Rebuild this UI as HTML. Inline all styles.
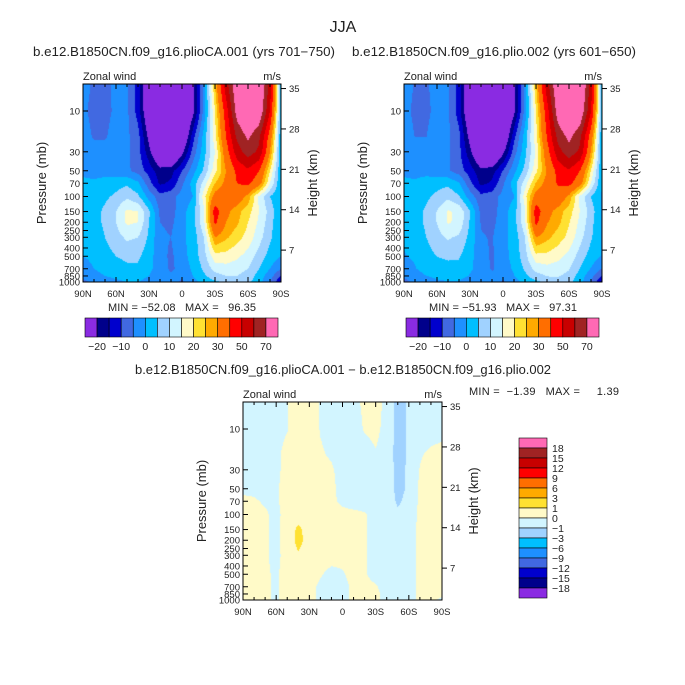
<!DOCTYPE html>
<html><head><meta charset="utf-8">
<style>
html,body{margin:0;padding:0;background:#fff;}
#wrap{position:relative;width:685px;height:685px;overflow:hidden;font-family:"Liberation Sans",sans-serif;}
canvas{position:absolute;}
svg{position:absolute;left:0;top:0;}
svg text{white-space:pre;}
</style></head>
<body>
<div id="wrap">
<canvas id="cA" width="198" height="198" style="left:83px;top:84px"></canvas>
<canvas id="cB" width="198" height="198" style="left:404px;top:84px"></canvas>
<canvas id="cD" width="199" height="198" style="left:243px;top:402px"></canvas>
<svg id="svg" width="685" height="685" xmlns="http://www.w3.org/2000/svg"></svg>
</div>
<script>
// ---- data ----
const lats = ["90N","80N","70N","60N","50N","40N","30N","20N","10N","EQ","10S","20S","30S","40S","50S","60S","70S","80S","90S"];
const levels = [5,10,20,30,50,70,100,150,200,300,500,700,850,1000];
const uA = [
 [-3,-6,-6,-4,-4,-12,-30,-45,-48,-40,-22,-3,25,55,80,90,85,55,0],
 [-4,-6.5,-6.5,-4,-4,-12,-28,-40,-42,-35,-22,-3,20,45,75,85,80,50,0],
 [-3,-5.5,-5.5,-3,-4,-8,-22,-38,-40,-30,-12,2,18,40,62,72,62,35,0],
 [-3,-3,-3,-3,-4,-8,-18,-30,-32,-22,-8,3,15,35,55,65,58,30,0],
 [-1,-2,-2,-3,-4,-7,-12,-18,-17,-10,-2,6,18,30,42,48,40,20,0],
 [1,1,2,3,4,1,-8,-16,-14,-6,2,12,25,32,40,42,34,15,0],
 [2,3,4,6,9,6,-2,-8,-7,-3,0,18,33,35,35,28,14,5,0],
 [2,3,6,10,16,15,6,-6,-7,-2,3,14,45,32,27,22,15,8,0],
 [2,3,6,10,16,15,5,-5,-6,-2,3,14,42,30,26,20,14,7,0],
 [1,2,5,8,11,10,4,-4,-5,-1,2,10,30,26,22,18,12,6,0],
 [0,1,3,5,6,6,2,-3,-6,-2,2,8,18,18,16,13,8,3,0],
 [-2,0,2,3,4,4,1,-2,-6,-3,1,6,12,13,12,10,5,0,-5],
 [-4,-2,0,1,2,2,0,-3,-4,-4,0,4,8,10,10,8,3,-3,-10],
 [-6,-4,-2,-1,0,0,-2,-3,-3,-6,-2,2,4,6,7,6,2,-5,-15]
];
const diff = [
 [-0.5,-0.5,-0.5,-0.4,-0.05,0.5,0.5,-0.05,-0.3,-0.5,-0.3,0.2,0.4,-0.3,-1.3,-0.9,-0.5,-0.4,-0.3],
 [-0.5,-0.5,-0.5,-0.3,-0.05,0.5,0.5,-0.05,-0.3,-0.5,-0.5,0.1,0.3,-0.4,-1.3,-0.9,-0.5,-0.4,-0.3],
 [-0.4,-0.4,-0.4,-0.2,0.3,0.5,0.5,0.1,-0.1,-0.4,-0.5,-0.5,-0.1,-0.6,-1.3,-0.9,-0.1,0.2,0.3],
 [-0.3,-0.3,-0.3,-0.2,0.3,0.5,0.5,0.3,0.1,-0.3,-0.5,-0.5,-0.5,-0.6,-1.2,-0.9,0.05,0.4,0.4],
 [-0.2,-0.2,-0.3,-0.1,0.3,0.5,0.5,0.4,0.2,-0.3,-0.5,-0.5,-0.5,-0.6,-1.2,-0.9,0.2,0.3,0.4],
 [0.2,0.1,-0.1,-0.1,0.3,0.5,0.5,0.4,0.2,-0.2,-0.5,-0.5,-0.5,-0.6,-1.1,-0.8,0.2,0.3,0.4],
 [0.3,0.3,0.1,-0.2,0.3,0.6,0.6,0.5,0.4,0.3,0.3,0.1,-0.3,-0.5,-0.9,-0.5,0.2,0.3,0.4],
 [0.3,0.3,0.1,-0.2,0.4,1.2,0.6,0.5,0.4,0.3,0.3,0.1,-0.3,-0.5,-0.5,-0.4,0.2,0.3,0.4],
 [0.3,0.3,0.1,-0.2,0.4,1.3,0.6,0.5,0.4,0.3,0.3,0.1,-0.3,-0.5,-0.5,-0.4,0.2,0.3,0.4],
 [0.3,0.3,0.1,-0.2,0.3,0.9,0.5,0.5,0.4,0.3,0.3,0.1,-0.3,-0.5,-0.5,-0.4,0.2,0.3,0.4],
 [0.3,0.3,0.1,-0.1,0.3,0.5,0.5,0.1,-0.3,-0.1,0.3,0.1,-0.3,-0.5,-0.5,-0.4,0.2,0.3,0.4],
 [0.3,0.3,0.1,-0.1,0.3,0.4,0.3,-0.2,-0.4,-0.3,0.2,0.2,0.1,-0.4,-0.5,-0.4,0.2,0.3,0.3],
 [0.3,0.3,0.1,-0.1,0.3,0.4,0.3,-0.2,-0.4,-0.3,0.2,0.2,0.2,-0.3,-0.5,-0.4,0.2,0.3,0.2],
 [0.3,0.3,0.1,-0.1,0.3,0.4,0.3,-0.2,-0.4,-0.3,0.2,0.2,0.2,-0.3,-0.5,-0.4,0.2,0.2,-0.2]
];
const uB = uA.map((row,i)=>row.map((v,j)=>v-diff[i][j]));
const boundsU = [-20,-15,-10,-5,0,5,10,15,20,25,30,40,50,60,70];
const boundsD = [-18,-15,-12,-9,-6,-3,-1,0,1,3,6,9,12,15,18];
const palette = ["#8a2be2","#00008b","#0000cd","#4169e1","#1e90ff","#00bfff","#a0d2ff","#d2f5ff","#fffac8","#ffe132","#ffaa00","#ff6e00","#ff0000","#c80000","#a02323","#ff69b4"];
const barLabelsU = ["\u221220","\u221210","0","10","20","30","50","70"];
const barLabelsD = ["\u221218","\u221215","\u221212","\u22129","\u22126","\u22123","\u22121","0","1","3","6","9","12","15","18"];
const pTicks = [10,30,50,70,100,150,200,250,300,400,500,700,850,1000];
const kmTicks = [7,14,21,28,35];
const latTicks = ["90N","60N","30N","0","30S","60S","90S"];

// ---- scales ----
const H=198, decade=85.5;
function yOfP(p){ return H - (3-Math.log10(p))*decade; }
function pOfY(y){ return Math.pow(10, 3-(H-y)/decade); }
function yOfKm(k){ return 206.5 - k*5.77; }

function hexRgb(h){return [parseInt(h.substr(1,2),16),parseInt(h.substr(3,2),16),parseInt(h.substr(5,2),16)];}
const rgb = palette.map(hexRgb);

function sample(grid, fx, p){
  const lp=Math.log10(Math.min(1000,Math.max(5,p)));
  let k=0; while(k<levels.length-2 && Math.log10(levels[k+1])<lp) k++;
  const l0=Math.log10(levels[k]), l1=Math.log10(levels[k+1]);
  const t=Math.min(1,Math.max(0,(lp-l0)/(l1-l0)));
  const xi=fx*(lats.length-1); let j=Math.min(lats.length-2,Math.floor(xi)); const s=xi-j;
  const a=grid[k][j]*(1-s)+grid[k][j+1]*s, b=grid[k+1][j]*(1-s)+grid[k+1][j+1]*s;
  return a*(1-t)+b*t;
}
function draw(id, grid, bounds){
  const c=document.getElementById(id), ctx=c.getContext('2d');
  const W=c.width, img=ctx.createImageData(W,H);
  for(let y=0;y<H;y++){ const p=pOfY(y+0.5);
    for(let x=0;x<W;x++){ const v=sample(grid,(x+0.5)/W,p);
      let ci=0; while(ci<bounds.length && v>=bounds[ci]) ci++;
      const col=rgb[ci], o=(y*W+x)*4; img.data[o]=col[0];img.data[o+1]=col[1];img.data[o+2]=col[2];img.data[o+3]=255; } }
  ctx.putImageData(img,0,0);
}
draw('cA',uA,boundsU); draw('cB',uB,boundsU); draw('cD',diff,boundsD);

// ---- annotations ----
const svg=document.getElementById('svg'), NS="http://www.w3.org/2000/svg";
function el(tag,attrs,txt){const e=document.createElementNS(NS,tag);for(const k in attrs)e.setAttribute(k,attrs[k]);if(txt!==undefined)e.textContent=txt;svg.appendChild(e);return e;}
function text(x,y,s,size,anchor,name,extra){const e=el('text',Object.assign({x:x,y:y,'font-size':size,'text-anchor':anchor||'start',fill:'#222','font-family':'Liberation Sans, sans-serif'},extra||{}),s);


return e;}

text(343,32,"JJA",16,'middle','figure-title');
text(184,56,"b.e12.B1850CN.f09_g16.plioCA.001 (yrs 701\u2212750)",12.5,'middle','left-panel-title',{textLength:302,lengthAdjust:'spacingAndGlyphs'});
text(494,56,"b.e12.B1850CN.f09_g16.plio.002 (yrs 601\u2212650)",12.5,'middle','right-panel-title',{textLength:284,lengthAdjust:'spacingAndGlyphs'});
text(343,374,"b.e12.B1850CN.f09_g16.plioCA.001 \u2212 b.e12.B1850CN.f09_g16.plio.002",12.5,'middle','difference-panel-title',{textLength:416,lengthAdjust:'spacingAndGlyphs'});

function panel(x0,y0,w,name,minmax,mmx,mmy,mmAnchor,mmLen){
  const r=el('rect',{x:x0,y:y0,width:w,height:H,fill:'none',stroke:'#000','stroke-width':1});
  
  
  text(x0,y0-4,"Zonal wind",11,'start',name+'-variable-label');
  text(x0+w,y0-4,"m/s",11,'end',name+'-units-label');
  for(let i=0;i<=18;i++){const x=x0+w*i/18;const len=(i%3===0)?5:3;
    el('line',{x1:x,x2:x,y1:y0+H,y2:y0+H-len,stroke:'#000','stroke-width':1});
    el('line',{x1:x,x2:x,y1:y0,y2:y0+len,stroke:'#000','stroke-width':1});}
  latTicks.forEach((l,i)=>{text(x0+w*i/6,y0+H+15,l,9.5,'middle',name+'-lat-label');});
  pTicks.forEach(p=>{const y=y0+yOfP(p);
    el('line',{x1:x0,x2:x0+5,y1:y,y2:y,stroke:'#000','stroke-width':1});
    text(x0-3,y+3.5,String(p),9.5,'end',name+'-pressure-label');});
  kmTicks.forEach(k=>{const y=y0+yOfKm(k);
    el('line',{x1:x0+w,x2:x0+w+5,y1:y,y2:y,stroke:'#000','stroke-width':1});
    text(x0+w+8,y+3.5,String(k),9.5,'start',name+'-height-label');});
  text(0,0,"Pressure (mb)",13,'middle',name+'-y-axis-title',{transform:`translate(${x0-37},${y0+99}) rotate(-90)`});
  text(0,0,"Height (km)",13,'middle',name+'-right-axis-title',{transform:`translate(${x0+w+36},${y0+99}) rotate(-90)`});
  text(mmx,mmy,minmax,11,mmAnchor,name+'-min-max',{textLength:mmLen,lengthAdjust:'spacing'});
}
panel(83,84,198,'left-panel',"MIN = \u221252.08   MAX =   96.35",182,311,'middle',148);
panel(404,84,198,'right-panel',"MIN = \u221251.93   MAX =   97.31",503,311,'middle',148);
panel(243,402,199,'diff-panel',"MIN =  \u22121.39   MAX =     1.39",469,395,'start',150);

function hbar(x0,y0,w,h,name){
  const bw=w/palette.length;
  palette.forEach((c,i)=>{const r=el('rect',{x:x0+i*bw,y:y0,width:bw,height:h,fill:c,stroke:'#000','stroke-width':0.6});
    
    });
  barLabelsU.forEach((l,i)=>{text(x0+bw*(1+2*i),y0+h+13,l,10.5,'middle',name+'-label');});
}
hbar(85,318,193,19,'left-colorbar');
hbar(406,318,193,19,'right-colorbar');
(function(){const x0=519,y0=438,w=28,bh=10;
  for(let i=0;i<palette.length;i++){const c=palette[palette.length-1-i];
    const r=el('rect',{x:x0,y:y0+i*bh,width:w,height:bh,fill:c,stroke:'#000','stroke-width':0.6});
    
    }
  for(let k=1;k<=15;k++){text(x0+w+5,y0+k*bh+4,barLabelsD[15-k],10.5,'start','diff-colorbar-label');}
})();
</script>
</body></html>
